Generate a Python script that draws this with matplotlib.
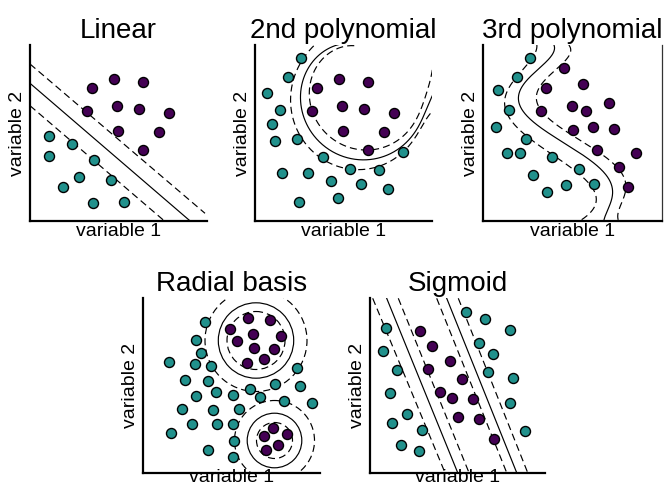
import numpy as np
import matplotlib
matplotlib.use("Agg")
import matplotlib.pyplot as plt
from matplotlib.patches import Circle

plt.rcParams['font.family'] = ['Liberation Sans', 'DejaVu Sans']

TEAL = '#21918c'
PURPLE = '#440154'

# ---------------- data (values in the picture's own variable units) ----------------
titles = ["Linear", "2nd polynomial", "3rd polynomial", "Radial basis", "Sigmoid"]

# Linear
lin_purple_x = [91.7, 114.3, 143.3, 86.7, 116.7, 139.3, 169.3, 118.3, 158.7, 142.7]
lin_purple_y = [87.7, 79.0, 82.3, 110.7, 106.0, 109.0, 113.3, 130.7, 132.0, 150.0]
lin_teal_x = [49.3, 49.3, 71.7, 94.3, 79.0, 62.7, 111.0, 93.3, 124.3]
lin_teal_y = [135.7, 156.3, 144.3, 160.3, 177.0, 186.7, 179.7, 203.0, 201.7]
lin_lines_x = [[30, 205], [30, 189], [30, 163.3]]
lin_lines_y = [[64, 213.3], [83.3, 220], [105.7, 220]]
lin_styles = ['dashed', 'solid', 'dashed']

# 2nd polynomial
p2_purple_x = [316.7, 339.3, 368.3, 311.7, 341.7, 364.3, 394.3, 343.3, 383.7, 367.7]
p2_purple_y = [87.7, 79.0, 82.3, 110.7, 106.0, 109.0, 113.3, 130.7, 132.0, 150.0]
p2_teal_x = [301.0, 287.7, 266.7, 280.0, 271.7, 275.0, 296.7, 322.7, 281.7, 308.3,
             350.0, 379.0, 402.7, 331.0, 361.0, 388.3, 338.3, 299.3]
p2_teal_y = [57.7, 77.3, 92.7, 110.0, 124.3, 141.0, 139.0, 156.7, 173.3, 172.7,
             169.0, 170.3, 152.0, 181.0, 184.0, 189.0, 198.3, 202.0]
p2_solid_x = [335, 321.7, 310, 303.3, 301, 305, 316.7, 335, 358.3, 375, 391.7, 408.3, 421.7, 431]
p2_solid_y = [45, 53.3, 66.7, 83.3, 106.7, 126.7, 140, 151.7, 158.3, 159, 153.3, 140, 121.7, 98]
p2_inner_x = [345, 325, 312.3, 310, 315, 331.7, 358.3, 381.7, 401.7, 413, 423, 431.7]
p2_inner_y = [45, 60, 80, 106.7, 125, 138.3, 148.3, 146.7, 136.7, 125, 107, 72]
p2_outer_x = [314.3, 301.7, 295, 291.7, 295, 311.7, 331.7, 365, 385, 405, 420, 431.7]
p2_outer_y = [45, 60, 80, 106.7, 133.3, 150, 162.7, 168.3, 165, 150, 130, 111.7]
p2_center = (385, 90)

# 3rd polynomial
p3_teal_x = [530.0, 516.7, 498.3, 509.0, 495.7, 526.0, 507.3, 520.0, 552.3, 579.3,
             533.3, 565.7, 594.0, 546.7]
p3_teal_y = [58.3, 77.3, 90.0, 110.0, 126.7, 139.0, 152.7, 152.7, 156.7, 169.0,
             175.0, 185.0, 184.3, 192.3]
p3_purple_x = [564.3, 546.0, 583.3, 541.0, 571.7, 586.0, 608.7, 573.3, 592.7, 613.7,
               596.7, 636.0, 619.3, 628.3]
p3_purple_y = [67.7, 87.7, 84.3, 110.7, 106.0, 111.0, 103.3, 130.0, 127.3, 129.3,
               150.0, 153.3, 166.7, 187.0]
p3_solid_x = [556.7, 543.3, 531.7, 526, 525, 528.3, 540, 556.7, 576.7, 593.3, 603.3, 608.3, 608.3, 605]
p3_solid_y = [45.3, 58.7, 75.3, 92, 108.7, 122, 132, 140.3, 148.7, 158.7, 168.7, 182, 202, 220.3]
p3_left_x = [538.3, 530, 516.7, 509.3, 508.3, 513.3, 526.7, 551.7, 578.3, 593.3, 590, 585]
p3_left_y = [47, 58, 75.3, 92, 108.7, 125.3, 138.7, 157, 168.7, 183.7, 202, 218.7]
p3_right_x = [570, 557, 546, 540, 543, 555, 573, 597, 617, 624, 622, 618.3]
p3_right_y = [45.3, 65, 85, 105, 120, 127, 131.5, 150, 166, 185, 203, 220]

# Radial basis
rb_purple_x = [247.7, 270.0, 230.0, 253.3, 281.0, 237.3, 254.0, 274.3, 264.3, 246.7,
               273.3, 286.7, 264.0, 278.3, 265.7]
rb_purple_y = [317.7, 320.0, 329.3, 334.3, 336.0, 341.0, 348.3, 349.3, 359.3, 362.7,
               427.7, 434.0, 435.7, 445.0, 450.0]
rb_teal_x = [205.0, 195.7, 201.0, 169.3, 195.0, 210.7, 297.3, 185.0, 208.3, 275.0,
             300.0, 216.0, 250.0, 196.0, 233.3, 260.0, 284.0, 312.3, 181.7, 212.7,
             239.0, 191.7, 216.7, 233.3, 170.7, 234.3, 208.3, 233.3]
rb_teal_y = [321.7, 340.0, 352.7, 361.7, 364.3, 366.0, 368.3, 380.0, 380.7, 384.3,
             386.0, 392.3, 389.3, 396.0, 395.0, 397.3, 401.0, 402.7, 409.0, 410.0,
             409.0, 424.3, 424.0, 424.0, 433.3, 440.7, 450.0, 456.7]
rb_centers_x = [256, 256, 256, 274.5, 274.5, 274.5]
rb_centers_y = [340.5, 340.5, 340.5, 440.5, 440.5, 440.5]
rb_radii = [29, 37.7, 51, 18, 27.3, 40]
rb_styles = ['dashed', 'solid', 'dashed', 'dashed', 'solid', 'dashed']

# Sigmoid
sg_teal_x = [465.7, 485.0, 510.0, 385.7, 479.3, 492.7, 382.7, 397.3, 487.7, 513.3,
             390.0, 510.0, 406.7, 391.7, 421.7, 525.0, 401.0, 419.0]
sg_teal_y = [311.7, 319.3, 330.0, 327.7, 342.7, 354.3, 351.0, 370.0, 371.7, 378.3,
             392.7, 402.7, 414.3, 423.3, 430.0, 430.7, 445.0, 451.0]
sg_purple_x = [420.0, 432.3, 450.0, 427.7, 462.3, 440.0, 451.7, 473.3, 458.3, 479.0, 494.0]
sg_purple_y = [331.0, 345.7, 360.7, 369.0, 379.0, 391.7, 398.3, 399.3, 416.7, 419.3, 439.3]
sg_lines_x = [[372.7, 445.0], [386.7, 457.7], [398.3, 469.0],
              [436.7, 506.7], [446.7, 516.7], [458.3, 527.7]]
sg_lines_y = [[298.3, 472.7]] * 6
sg_styles = ['dashed', 'solid', 'dashed', 'dashed', 'solid', 'dashed']

# ---------------- drawing ----------------
W, H = 665, 490
fig = plt.figure(figsize=(6.65, 4.9), dpi=100)

DASH = (0, (6, 3.5))
LW = 0.85


def ls(s):
    return DASH if s == 'dashed' else '-'


def panel(left, right, top, bottom, title, right_spine=False, xpad=1.5):
    ax = fig.add_axes([left / W, 1 - bottom / H, (right - left) / W, (bottom - top) / H])
    ax.set_xlim(left, right)
    ax.set_ylim(bottom, top)
    ax.set_xticks([])
    ax.set_yticks([])
    for s in ['top', 'right']:
        ax.spines[s].set_visible(False)
    for s in ['left', 'bottom']:
        ax.spines[s].set_linewidth(1.6)
    if right_spine:
        ax.spines['right'].set_visible(True)
        ax.spines['right'].set_linewidth(0.9)
        ax.spines['right'].set_color('#333333')
    ax.set_title(title, fontsize=20, pad=5)
    ax.set_xlabel('variable 1', fontsize=14, labelpad=xpad)
    ax.set_ylabel('variable 2', fontsize=14, labelpad=3)
    return ax


def dots(ax, x, y, c):
    ax.scatter(x, y, s=52, c=c, edgecolors='black', linewidths=1.0, zorder=3, clip_on=False)


def polar_curve(ax, xs, ys, center, style):
    xs = np.asarray(xs, float)
    ys = np.asarray(ys, float)
    dx = xs - center[0]
    dy = center[1] - ys
    th = np.unwrap(np.arctan2(dy, dx))
    r = np.hypot(dx, dy)
    coef = np.polyfit(th, r, 4)
    ext = 0.12
    tt = np.linspace(th.min() - ext, th.max() + ext, 400)
    rr = np.polyval(coef, tt)
    ax.plot(center[0] + rr * np.cos(tt), center[1] - rr * np.sin(tt),
            color='black', lw=LW, ls=ls(style))


def poly_curve(ax, xs, ys, style):
    coef = np.polyfit(ys, xs, 5)
    y1, y0 = ax.get_ylim()
    yy = np.linspace(y0, y1, 300)
    ax.plot(np.polyval(coef, yy), yy, color='black', lw=LW, ls=ls(style))


# Linear
ax = panel(30, 207, 45, 221, titles[0])
for lx, ly, st in zip(lin_lines_x, lin_lines_y, lin_styles):
    ax.plot(lx, ly, color='black', lw=LW, ls=ls(st))
dots(ax, lin_teal_x, lin_teal_y, TEAL)
dots(ax, lin_purple_x, lin_purple_y, PURPLE)

# 2nd polynomial
ax = panel(255, 432, 45, 221, titles[1])
polar_curve(ax, p2_solid_x, p2_solid_y, p2_center, 'solid')
polar_curve(ax, p2_inner_x, p2_inner_y, p2_center, 'dashed')
polar_curve(ax, p2_outer_x, p2_outer_y, p2_center, 'dashed')
dots(ax, p2_teal_x, p2_teal_y, TEAL)
dots(ax, p2_purple_x, p2_purple_y, PURPLE)

# 3rd polynomial
ax = panel(483.3, 661.7, 45, 221, titles[2], right_spine=True)
poly_curve(ax, p3_solid_x, p3_solid_y, 'solid')
poly_curve(ax, p3_left_x, p3_left_y, 'dashed')
poly_curve(ax, p3_right_x, p3_right_y, 'dashed')
dots(ax, p3_teal_x, p3_teal_y, TEAL)
dots(ax, p3_purple_x, p3_purple_y, PURPLE)

# Radial basis
ax = panel(143.3, 320, 298, 472.7, titles[3], xpad=-2.8)
for cx, cy, r, st in zip(rb_centers_x, rb_centers_y, rb_radii, rb_styles):
    ax.add_patch(Circle((cx, cy), r, fill=False, ec='black', lw=LW, ls=ls(st)))
dots(ax, rb_teal_x, rb_teal_y, TEAL)
dots(ax, rb_purple_x, rb_purple_y, PURPLE)

# Sigmoid
ax = panel(370, 545, 298, 472.7, titles[4], xpad=-2.8)
for lx, ly, st in zip(sg_lines_x, sg_lines_y, sg_styles):
    ax.plot(lx, ly, color='black', lw=LW, ls=ls(st))
dots(ax, sg_teal_x, sg_teal_y, TEAL)
dots(ax, sg_purple_x, sg_purple_y, PURPLE)

fig.savefig('out.png', dpi=100, facecolor='white')
